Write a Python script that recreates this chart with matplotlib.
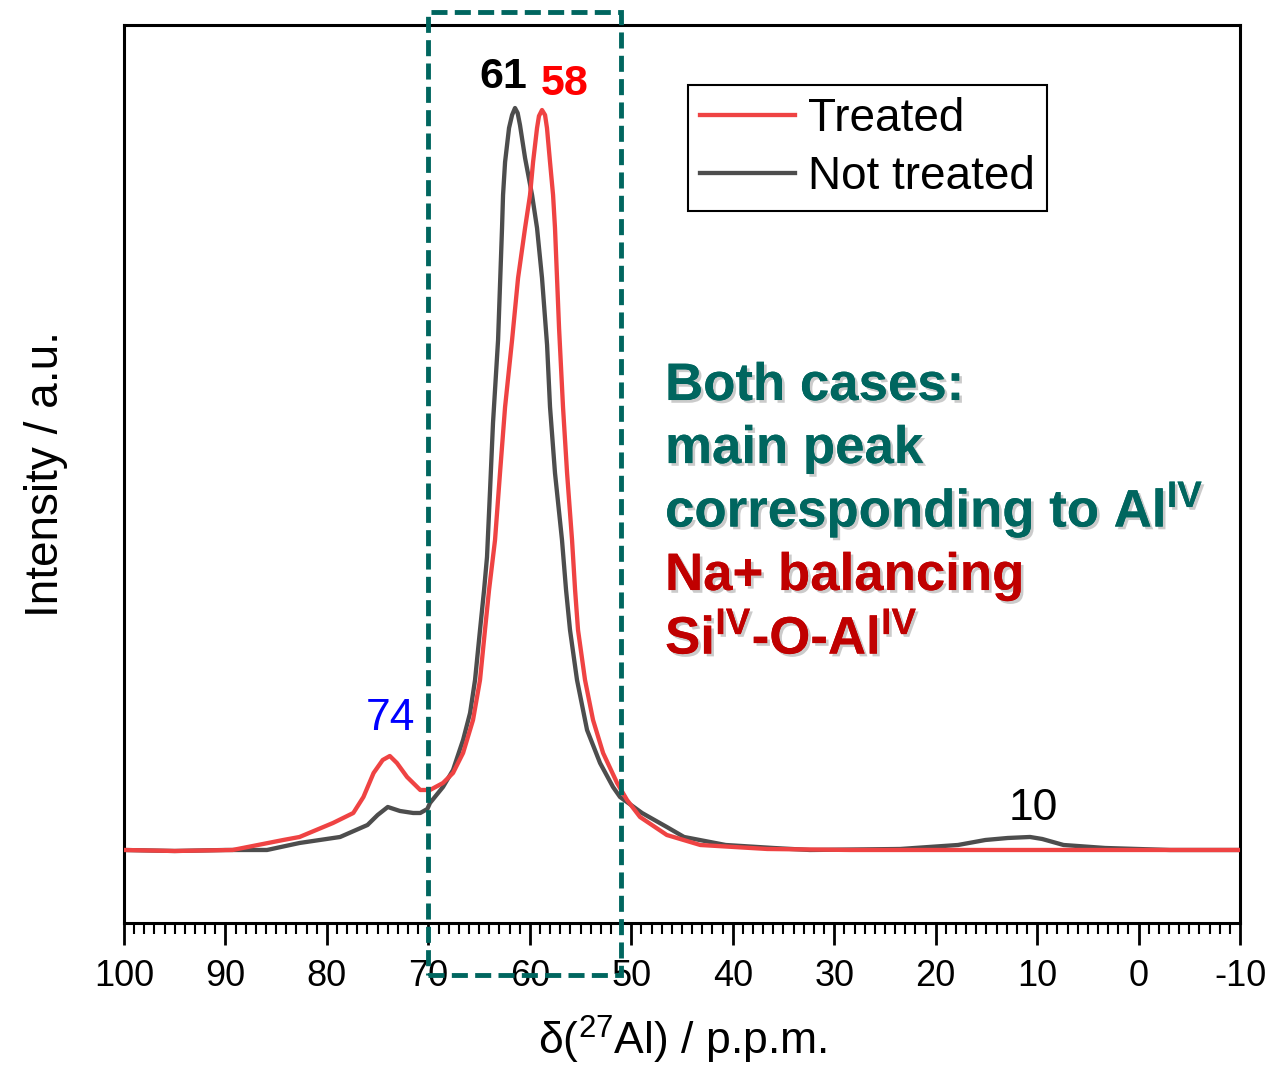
import matplotlib
matplotlib.use("Agg")
import matplotlib.pyplot as plt
import matplotlib.patheffects as pe
from matplotlib.patches import Rectangle
from matplotlib.ticker import MultipleLocator
import matplotlib.transforms as mtransforms

plt.rcParams['font.family'] = ['Liberation Sans', 'DejaVu Sans']
plt.rcParams['mathtext.fontset'] = 'custom'
plt.rcParams['mathtext.rm'] = 'Liberation Sans'
plt.rcParams['mathtext.it'] = 'Liberation Sans'
plt.rcParams['mathtext.bf'] = 'Liberation Sans:bold'
plt.rcParams['axes.unicode_minus'] = False

# ---- data (ppm, intensity a.u.) ----
not_treated_ppm = [100.0, 95.0, 90.0, 85.9, 82.7, 78.7, 76.0, 75.0, 74.0, 72.8, 71.5, 70.8, 70.1,
                   69.84, 68.56, 67.57, 66.58, 65.89, 65.40, 64.91, 64.51, 64.22, 63.92, 63.63,
                   63.13, 62.74, 62.64, 62.44, 62.05, 61.75, 61.46, 61.2, 60.97, 60.47, 59.78,
                   59.29, 58.80, 58.30, 58.01, 57.52, 56.83, 56.43, 56.04, 55.35, 54.36, 53.08,
                   51.80, 51.11, 48.94, 46.5, 44.8, 40.7, 36.0, 32.4, 23.5, 17.8, 15.1, 12.9,
                   10.7, 9.5, 7.4, 3.3, -3.1, -10.0]
not_treated_int = [73, 72, 73, 73, 80, 86, 98, 108, 116, 112, 110, 110, 114,
                   120, 136, 153, 183, 210, 243, 293, 333, 366, 433, 500,
                   583, 695, 728, 761, 795, 808, 815, 810, 798, 765, 728,
                   695, 645, 578, 516, 450, 383, 333, 293, 243, 193, 160,
                   136, 126, 110, 96, 86, 78, 75, 73, 74, 78, 83, 85,
                   86, 84, 78, 75, 73, 73]

treated_ppm = [100.0, 95.0, 89.3, 84.3, 82.7, 79.4, 77.4, 76.4, 75.4, 74.5, 73.8, 73.1, 72.1,
               71.3, 70.8, 69.84, 68.56, 67.57, 66.58, 65.60, 64.91, 64.42, 64.02, 63.43,
               62.94, 62.44, 61.75, 61.16, 60.47, 59.98, 59.68, 59.29, 59.1, 58.80, 58.5,
               58.31, 58.01, 57.71, 57.52, 57.32, 57.12, 56.73, 56.33, 55.84, 55.54, 55.25,
               54.56, 53.77, 52.78, 51.40, 50.42, 49.14, 46.5, 43.2, 36.6, 28.4, 18.6,
               8.7, -1.1, -10.0]
treated_int = [73, 72, 73, 83, 86, 100, 110, 126, 150, 163, 167, 160, 146,
               138, 133, 133, 140, 150, 170, 203, 243, 293, 333, 383,
               450, 516, 583, 645, 695, 728, 761, 795, 807, 813, 808,
               795, 761, 728, 695, 645, 595, 516, 450, 383, 333, 293,
               243, 203, 170, 140, 123, 106, 88, 78, 74, 73, 73,
               73, 73, 73]

series_labels = ["Treated", "Not treated"]
peak_labels = ["61", "58", "74", "10"]
peak_pos = [(62.6, 835), (56.6, 828), (73.7, 193), (10.4, 103)]
xticks = [100, 90, 80, 70, 60, 50, 40, 30, 20, 10, 0, -10]

RED = '#EF4343'
GREY = '#4D4D4D'
TEAL = '#00665F'
DRED = '#C00000'

fig = plt.figure(figsize=(12.69, 10.70), dpi=100)
ax = fig.add_axes([0.0977, 0.1374, 0.8795, 0.8392])

ax.plot(not_treated_ppm, not_treated_int, color=GREY, lw=3.1, label=series_labels[1], zorder=2,
        solid_joinstyle='round')
ax.plot(treated_ppm, treated_int, color=RED, lw=3.1, label=series_labels[0], zorder=3,
        solid_joinstyle='round')
ax.set_xlim(100, -10)
ax.set_ylim(0, 898)
ax.set_xticks(xticks)
ax.set_xticklabels([str(t) for t in xticks])
ax.xaxis.set_minor_locator(MultipleLocator(1))
ax.set_yticks([])
ax.tick_params(axis='x', which='major', direction='out', length=16, width=2, labelsize=26, pad=10)
ax.tick_params(axis='x', which='minor', direction='out', length=8, width=1.5)
for s in ax.spines.values():
    s.set_linewidth(2.2)

ax.set_xlabel('δ($^{27}$Al) / p.p.m.', fontsize=32, labelpad=14)
ax.set_ylabel('Intensity / a.u.', fontsize=33, labelpad=40)

handles, labels = ax.get_legend_handles_labels()
order = [1, 0]
leg = ax.legend([handles[i] for i in order], [labels[i] for i in order],
                loc='upper right', bbox_to_anchor=(0.827, 0.933), fontsize=33,
                frameon=True, fancybox=False, edgecolor='black', framealpha=1,
                handlelength=2.08, handletextpad=0.28, borderpad=0.26, labelspacing=0.3,
                borderaxespad=0)
leg.get_frame().set_linewidth(1.5)

# dashed box
trans = mtransforms.blended_transform_factory(ax.transData, ax.transAxes)
rect = Rectangle((70, -0.058), -19, 1.0725, transform=trans, fill=False,
                 edgecolor=TEAL, lw=3.5, ls=(0, (3.3, 1.5)), clip_on=False, zorder=5)
ax.add_patch(rect)

# peak labels
ax.text(*peak_pos[0], peak_labels[0], color='black', fontsize=31, fontweight='bold', ha='center', va='baseline')
ax.text(*peak_pos[1], peak_labels[1], color='#FF0000', fontsize=31, fontweight='bold', ha='center', va='baseline')
ax.text(*peak_pos[2], peak_labels[2], color='#0000FF', fontsize=32, ha='center', va='baseline')
ax.text(*peak_pos[3], peak_labels[3], color='black', fontsize=32, ha='center', va='baseline')

shadow = [pe.withSimplePatchShadow(offset=(2, -2), shadow_rgbFace='#999999', alpha=0.5), pe.Normal()]
lines = [
    ('Both cases:', TEAL, 0.5824),
    ('main peak', TEAL, 0.5122),
    (r'corresponding to Al$^{\mathbf{IV}}$', TEAL, 0.4410),
    ('Na+ balancing', DRED, 0.3708),
    (r'Si$^{\mathbf{IV}}$-O-Al$^{\mathbf{IV}}$', DRED, 0.2995),
]
for txt, col, yy in lines:
    ax.text(0.4848, yy, txt, transform=ax.transAxes, color=col, fontsize=38,
            fontweight='bold', ha='left', va='baseline', path_effects=shadow, zorder=6)

fig.savefig('out.png', dpi=100)
